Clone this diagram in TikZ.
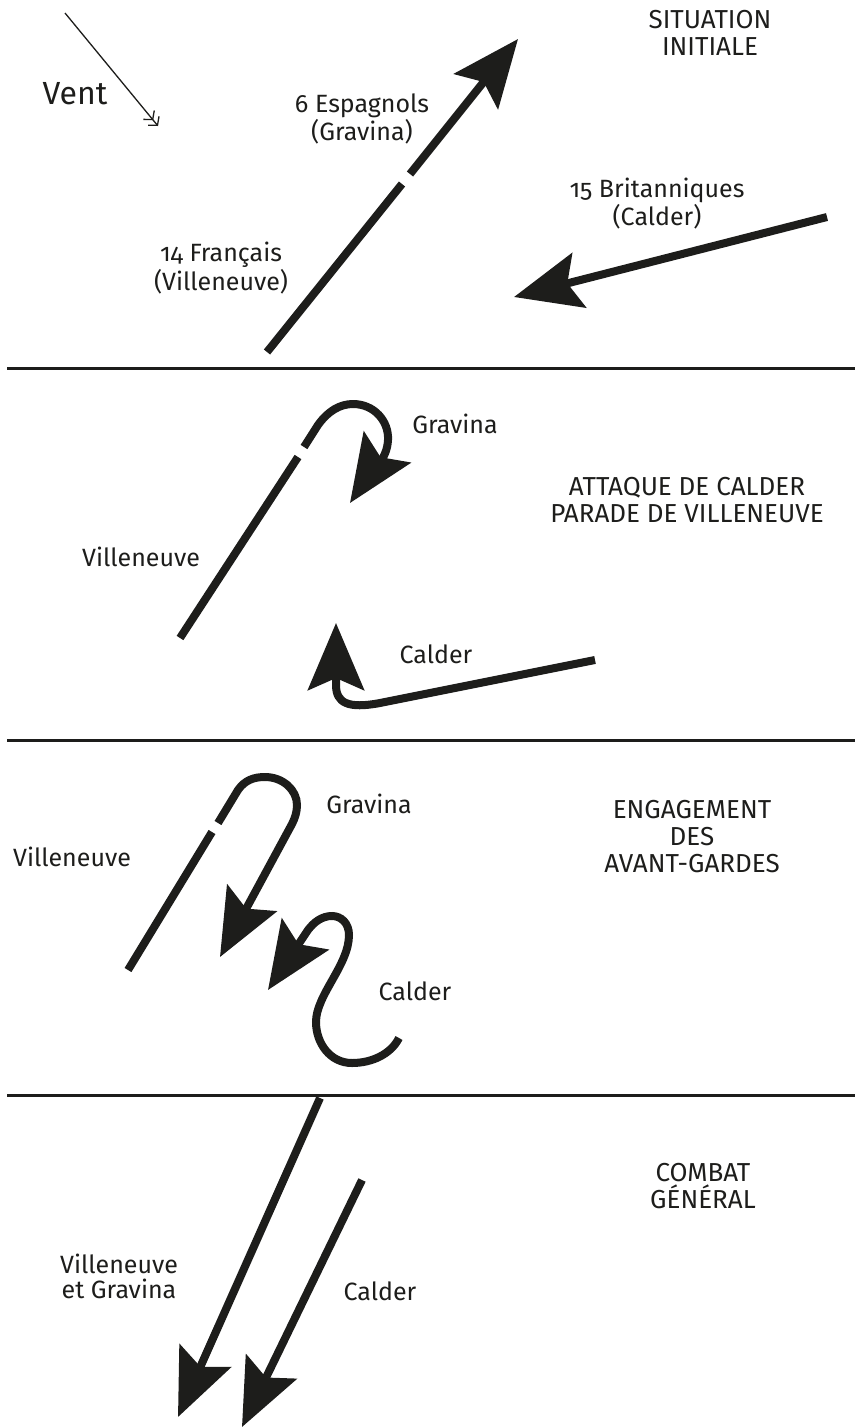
\documentclass[tikz,border=0pt]{standalone}
\usepackage{fontspec}
\setmainfont{Fira Sans}[Numbers=OldStyle]
\usetikzlibrary{arrows.meta}
\definecolor{ink}{HTML}{1D1D1B}
\begin{document}
\begin{tikzpicture}[x=1pt,y=-1pt,
  lbl/.style={text=ink, font=\fontsize{25}{25}\selectfont, align=center, anchor=base, inner sep=0pt},
  ttl/.style={text=ink, font=\fontsize{26}{27}\selectfont, align=center, anchor=base, inner sep=0pt},
  fleet/.style={draw=ink, line width=8pt},
  head/.style={-{Stealth[length=67pt,width=56pt,inset=12pt]}},
  divider/.style={draw=ink, line width=3pt},
  wind/.style={draw=ink, line width=1.3pt, -{Straight Barb[length=6pt,width=14pt]Straight Barb[length=6pt,width=14pt]}}
]
\useasboundingbox (0,0) rectangle (855,1428);

% dividers
\coordinate (d1l) at (7,368);  \coordinate (d1r) at (855,368);
\coordinate (d2l) at (7,740);  \coordinate (d2r) at (855,740);
\coordinate (d3l) at (7,1095); \coordinate (d3r) at (855,1095);
\draw[divider] (d1l) -- (d1r);
\draw[divider] (d2l) -- (d2r);
\draw[divider] (d3l) -- (d3r);

% ---------- Situation initiale
\coordinate (w0) at (65,13); \coordinate (w1) at (158,126);
\draw[wind] (w0) -- (w1);
\node[lbl, font=\fontsize{32}{32}\selectfont] (vent) at (75,104) {Vent};

\coordinate (f1a) at (267,352); \coordinate (f1b) at (402,184);
\coordinate (f1c) at (410,174); \coordinate (f1d) at (518,39);
\draw[fleet] (f1a) -- (f1b);
\draw[fleet, head] (f1c) -- (f1d);

\coordinate (b1a) at (827,217); \coordinate (b1b) at (514,297);
\draw[fleet, head] (b1a) -- (b1b);

\node[lbl] (esp) at (362,140) {6 Espagnols\\(Gravina)};
\node[lbl] (fra) at (221,290) {14 Français\\(Villeneuve)};
\node[lbl] (bri) at (657,225) {15 Britanniques\\(Calder)};
\node[ttl] (t1) at (710,55) {SITUATION\\INITIALE};

% ---------- Attaque de Calder
\coordinate (v2a) at (180,638); \coordinate (v2b) at (298,457);
\coordinate (g2a) at (304,447); \coordinate (g2b) at (350,503);
\draw[fleet] (v2a) -- (v2b);
\draw[fleet, head] (g2a) -- (318,425) .. controls (328,411) and (340,404) .. (353,404)
   .. controls (374,404) and (389,421) .. (388,440)
   .. controls (387,460) and (372,470) .. (g2b);

\coordinate (c2a) at (595,660); \coordinate (c2b) at (336,623);
\draw[fleet, head] (c2a) -- (380,703) .. controls (348,709) and (336,703) .. (336,685) -- (c2b);

\node[lbl] (vil2) at (141,566) {Villeneuve};
\node[lbl] (gra2) at (455,433) {Gravina};
\node[lbl] (cal2) at (436,663) {Calder};
\node[ttl] (t2) at (687,522) {ATTAQUE DE CALDER\\PARADE DE VILLENEUVE};

% ---------- Engagement des avant-gardes
\coordinate (v3a) at (128,970); \coordinate (v3b) at (212,832);
\coordinate (g3a) at (218,823); \coordinate (g3b) at (220,957);
\draw[fleet] (v3a) -- (v3b);
\draw[fleet, head] (g3a) -- (238,790) .. controls (245,780) and (254,777) .. (265,777)
   .. controls (283,777) and (297,790) .. (297,805)
   .. controls (297,812) and (295,818) .. (292,824) -- (g3b);

\coordinate (c3a) at (399,1038); \coordinate (c3b) at (268,990);
\draw[fleet, head] (c3a) .. controls (391,1054) and (372,1063) .. (352,1063)
   .. controls (330,1063) and (316,1043) .. (316,1022)
   .. controls (316,995) and (349,965) .. (349,935)
   .. controls (349,923) and (341,916) .. (332,916)
   .. controls (322,916) and (314,922) .. (308,930) -- (c3b);

\node[lbl] (vil3) at (72,866) {Villeneuve};
\node[lbl] (gra3) at (369,813) {Gravina};
\node[lbl] (cal3) at (415,1000) {Calder};
\node[ttl] (t3) at (692,872) {ENGAGEMENT\\DES\\AVANT-GARDES};

% ---------- Combat general
\coordinate (a4a) at (320,1098); \coordinate (a4b) at (178,1417);
\coordinate (c4a) at (362,1180); \coordinate (c4b) at (242,1427);
\draw[fleet, head] (a4a) -- (a4b);
\draw[fleet, head] (c4a) -- (c4b);

\node[lbl] (vg4) at (119,1298) {Villeneuve\\et Gravina};
\node[lbl] (cal4) at (380,1300) {Calder};
\node[ttl] (t4) at (703,1208) {COMBAT\\GÉNÉRAL};
\end{tikzpicture}
\end{document}
